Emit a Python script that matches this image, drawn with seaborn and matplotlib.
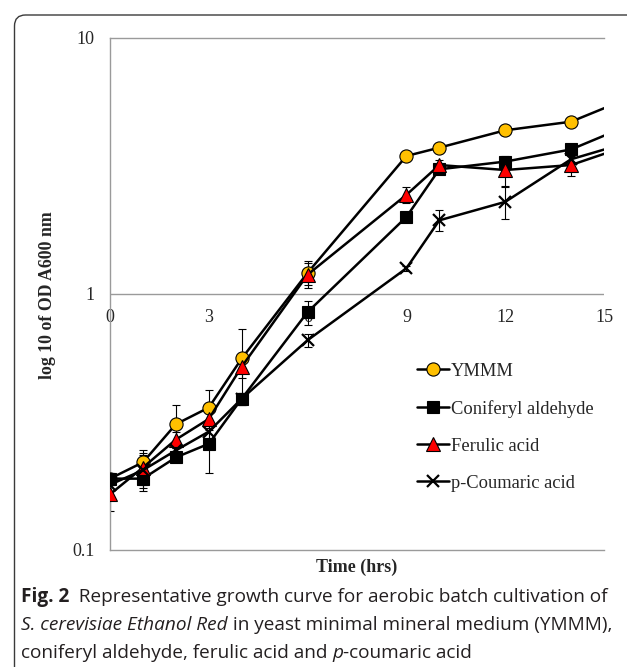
import numpy as np
import pandas as pd
import matplotlib
matplotlib.use("Agg")
import matplotlib.pyplot as plt
import seaborn as sns
from matplotlib.patches import FancyBboxPatch

# sampling times (hrs); the last point lies just past the visible axis end
time = [0, 1, 2, 3, 4, 6, 9, 10, 12, 14, 16]

ymmm = [0.19, 0.22, 0.31, 0.36, 0.56, 1.21, 3.46, 3.73, 4.36, 4.71, 6.0]
coniferyl = [0.19, 0.19, 0.23, 0.26, 0.39, 0.85, 2.0, 3.07, 3.29, 3.67, 4.7]
ferulic = [0.165, 0.21, 0.27, 0.325, 0.52, 1.19, 2.44, 3.19, 3.05, 3.19, 3.9]
coumaric = [0.18, 0.205, 0.245, 0.29, 0.39, 0.66, 1.26, 1.94, 2.29, 3.36, 4.0]

ymmm_err = [0.01, 0.025, 0.06, 0.06, 0.17, 0.13, 0.1, 0.1, 0.1, 0.1, 0]
coniferyl_err = [0.01, 0.02, 0.01, 0.06, 0.02, 0.09, 0.05, 0.1, 0.1, 0.1, 0]
ferulic_err = [0.023, 0.03, 0.02, 0.03, 0.05, 0.13, 0.17, 0.15, 0.4, 0.3, 0]
coumaric_err = [0.01, 0.03, 0.02, 0.03, 0.02, 0.04, 0.03, 0.18, 0.33, 0.1, 0]

series_names = ["YMMM", "Coniferyl aldehyde", "Ferulic acid", "p-Coumaric acid"]
x_ticks = [0, 3, 6, 9, 12, 15]

df = pd.DataFrame({
    "time": time * 4,
    "od": ymmm + coniferyl + ferulic + coumaric,
    "err": ymmm_err + coniferyl_err + ferulic_err + coumaric_err,
    "series": np.repeat(series_names, len(time)),
})

sns.set_style("white")
serif = ["Liberation Serif", "DejaVu Serif"]
sans = ["Open Sans", "DejaVu Sans"]

fig = plt.figure(figsize=(6.27, 6.67), dpi=100)
ax = fig.add_axes([110 / 627, 1 - 550 / 667, (604 - 110) / 627, (550 - 38) / 667])

styles = {
    "YMMM": dict(marker="o", mfc="#FFC000", ms=9.5),
    "Coniferyl aldehyde": dict(marker="s", mfc="black", ms=8.5),
    "Ferulic acid": dict(marker="^", mfc="#FF0000", ms=9.5),
    "p-Coumaric acid": dict(marker="x", mfc="black", ms=9, mew=1.6),
}

for name in series_names:
    sub = df[df["series"] == name]
    ax.errorbar(sub["time"], sub["od"], yerr=sub["err"], fmt="none",
                ecolor="black", elinewidth=0.8, capsize=3, capthick=0.8, zorder=2)

for name in series_names:
    sub = df[df["series"] == name]
    st = styles[name]
    sns.lineplot(data=sub, x="time", y="od", ax=ax, color="black", lw=1.8,
                 marker=st["marker"], markersize=st["ms"],
                 markerfacecolor=st["mfc"], markeredgecolor="black",
                 markeredgewidth=st.get("mew", 0.8), label=name, zorder=4,
                 estimator=None, sort=False)

ax.set_yscale("log")
ax.set_xlim(0, 15)
ax.set_ylim(0.1, 10)

# axis spines in light grey, no right spine
for s in ["left", "top", "bottom"]:
    ax.spines[s].set_color("#9a9a9a")
    ax.spines[s].set_linewidth(1.0)
ax.spines["right"].set_visible(False)
ax.axhline(1, color="#9a9a9a", lw=1.0, zorder=1)

ax.set_xticks([])
ax.minorticks_off()
ax.set_yticks([0.1, 1, 10])
ax.set_yticklabels(["0.1", "1", "10"], fontfamily=serif, fontsize=13)
ax.tick_params(axis="y", length=0, pad=11)

# x tick labels sit on the y = 1 line, behind the curves
for t in x_ticks:
    ax.text(t, 0.813, str(t), ha="center", va="center", fontfamily=serif,
            fontsize=13, zorder=1)

ax.set_xlabel("Time (hrs)", fontfamily=serif, fontsize=13, fontweight="bold")
ax.xaxis.set_label_coords(0.5, -17 / 512)
ax.xaxis.label.set_va("center")
ax.set_ylabel("log 10 of OD A600 nm", fontfamily=serif, fontsize=12.8,
              fontweight="bold")
ax.yaxis.set_label_coords((48 - 110) / 494, 0.5 + (294 - 295) / 512)
ax.yaxis.label.set_va("center")

leg = ax.legend(loc="upper left", bbox_to_anchor=(0.606, 0.38), frameon=False,
                prop={"family": serif, "size": 13.3}, handlelength=1.75,
                handletextpad=0.1, labelspacing=1.08, borderaxespad=0)
for h in leg.legend_handles:
    h.set_linewidth(1.8)

# caption with mixed bold / italic runs
fig.canvas.draw()
renderer = fig.canvas.get_renderer()
lines = [
    [("Fig. 2", "bold", "normal"), ("  Representative growth curve for aerobic batch cultivation of", "normal", "normal")],
    [("S. cerevisiae Ethanol Red", "normal", "italic"), (" in yeast minimal mineral medium (YMMM),", "normal", "normal")],
    [("coniferyl aldehyde, ferulic acid and ", "normal", "normal"), ("p", "normal", "italic"), ("-coumaric acid", "normal", "normal")],
]
baselines = [602, 630, 658]
for parts, yb in zip(lines, baselines):
    x0 = 21
    for txt, weight, style in parts:
        t = fig.text(x0 / 627, 1 - yb / 667, txt, fontfamily=sans, fontsize=13.7,
                     fontweight=weight, fontstyle=style, va="baseline", ha="left",
                     color="#231f20")
        bb = t.get_window_extent(renderer)
        x0 = bb.x1

# rounded frame around the figure panel (inches, so the corner is round)
frame = FancyBboxPatch((0.145, -1.0), 7.0, 6.67 - 0.15 + 1.0,
                       boxstyle="round,pad=0,rounding_size=0.11",
                       transform=fig.dpi_scale_trans, fill=False,
                       edgecolor="#3a3a3a", lw=1.0)
fig.patches.append(frame)

fig.savefig("out.png", dpi=100)
